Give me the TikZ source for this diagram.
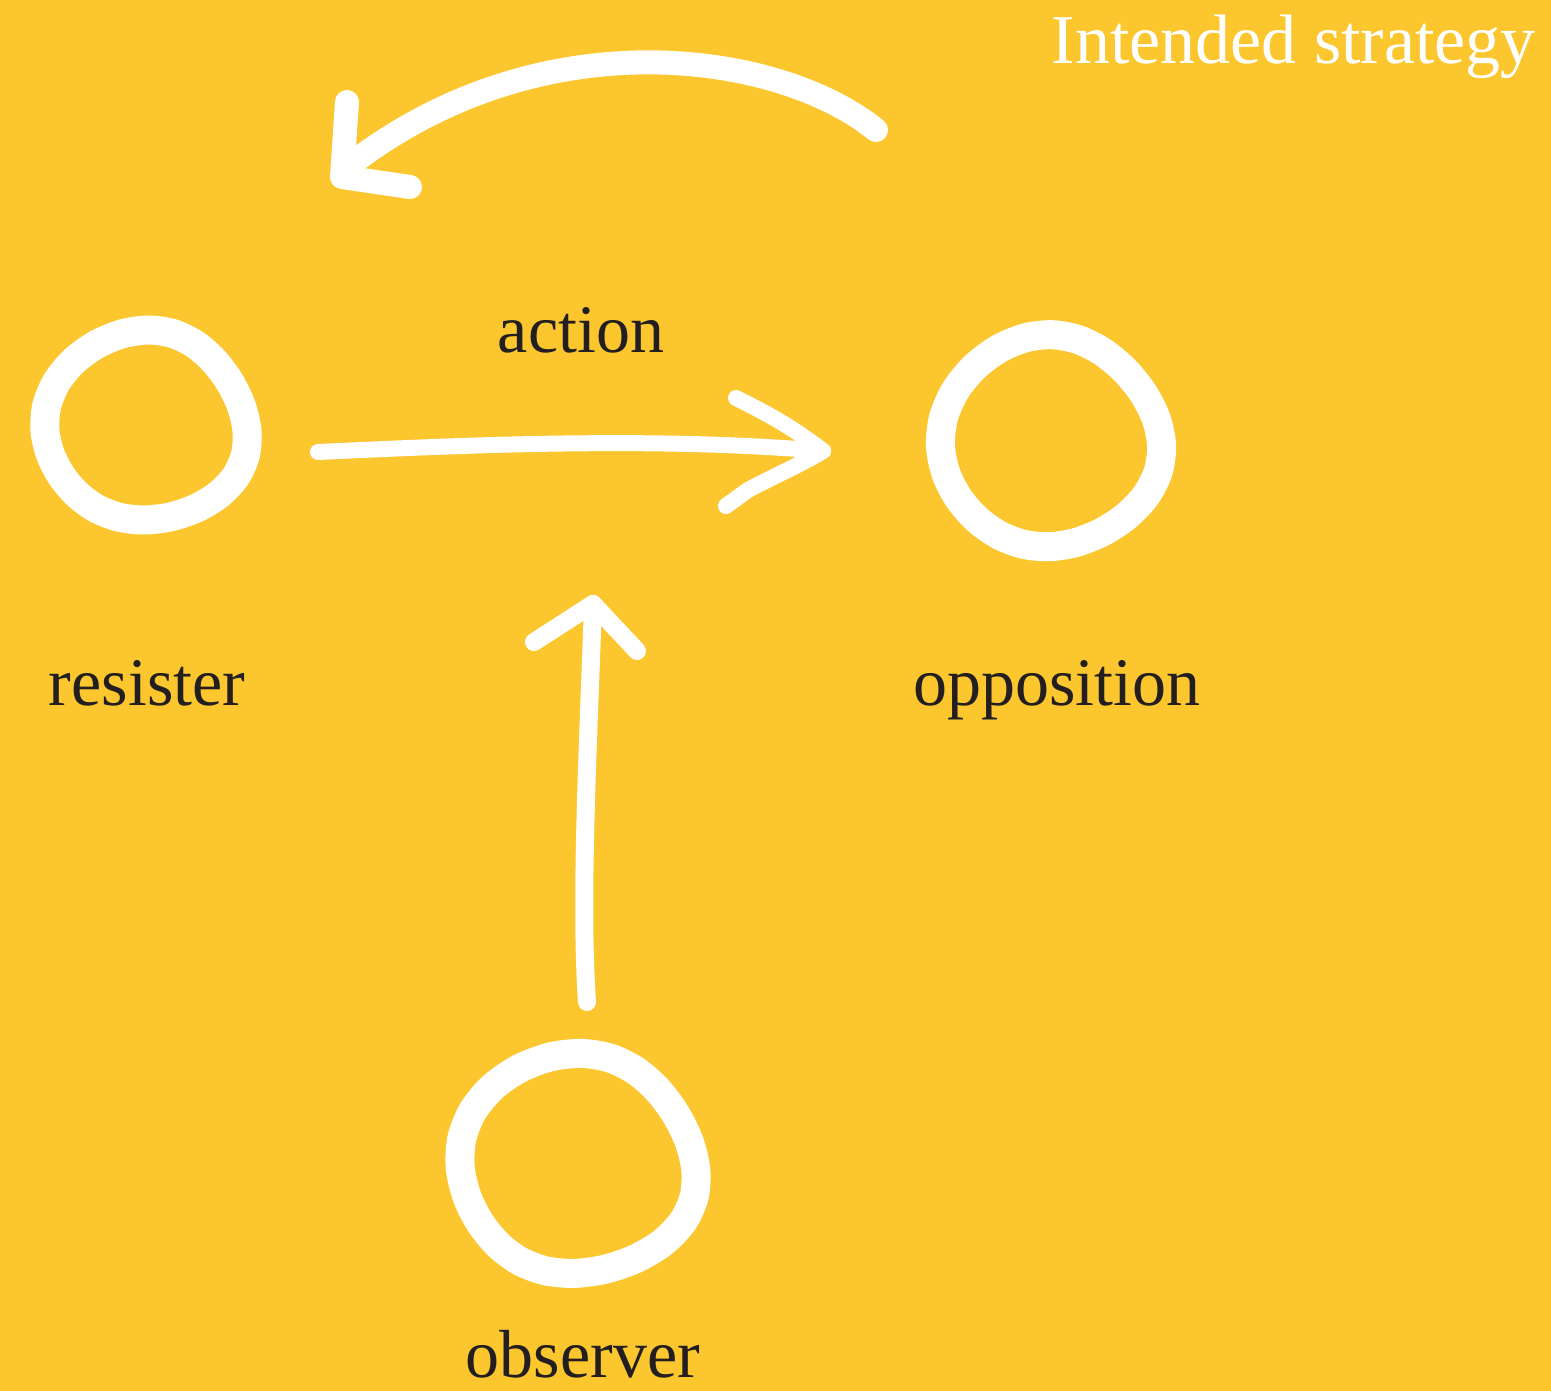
\documentclass[tikz,border=0pt]{standalone}
\usepackage{fontspec}
\setmainfont{Liberation Serif}
\definecolor{bgyellow}{HTML}{FCC62F}
\definecolor{ink}{HTML}{231F20}
\begin{document}
\begin{tikzpicture}[x=1pt,y=-1pt,
  ring/.style={draw=white,line width=29pt,line join=round},
  stroke/.style={draw=white,line cap=round,line join=round},
  lbl/.style={text=ink,font=\fontsize{68}{80}\selectfont,inner sep=0pt,anchor=base},
  hub/.style={circle,inner sep=0pt,minimum size=2pt}]
\fill[bgyellow] (0,0) rectangle (1551,1391);
\useasboundingbox (0,0) rectangle (1551,1391);
% centres
\node[hub] (res) at (146,428) {};
\node[hub] (opp) at (1051,443) {};
\node[hub] (obs) at (578,1166) {};
% hand drawn rings
\draw[ring] plot[smooth cycle,domain=0:345,samples=24] ({146+100*cos(\x)+3*sin(3*\x+20)}, {428+95*sin(\x)+3*cos(2*\x)});
\draw[ring] plot[smooth cycle,domain=0:345,samples=24] ({1051+108*cos(\x)+3*sin(3*\x+60)}, {443+106*sin(\x)+3*cos(2*\x+40)});
\draw[ring] plot[smooth cycle,domain=0:345,samples=24] ({578+117*cos(\x)+4*sin(3*\x+10)}, {1166+110*sin(\x)+3*cos(2*\x+30)});
% labels
\node[lbl] (lres) at (147,705) {resister};
\node[lbl] (lopp) at (1057,705) {opposition};
\node[lbl] (lobs) at (583,1377) {observer};
\node[lbl] (lact) at (581,352) {action};
\node[lbl,text=white,anchor=base east,font=\fontsize{70}{82}\selectfont] (title) at (1536,64) {Intended strategy};
% action arrow
\coordinate (a0) at (318,452);
\coordinate (a1) at (823,451);
\coordinate (ah1) at (736,398);
\coordinate (ah2) at (726,506);
\coordinate (ah2b) at (748,490);
\draw[stroke,line width=16pt] (a0) .. controls (450,446) and (650,436) .. (a1);
\draw[stroke,line width=16pt] (ah1) .. controls (760,410) and (790,425) .. (a1);
\draw[stroke,line width=16pt] (ah2) -- (ah2b) .. controls (770,478) and (800,465) .. (a1);
% observer arrow
\coordinate (o0) at (587,1002);
\coordinate (o1) at (593,604);
\coordinate (oh1) at (534,642);
\coordinate (oh2) at (637,651);
\draw[stroke,line width=18pt] (o0) .. controls (580,900) and (588,750) .. (o1);
\draw[stroke,line width=18pt] (oh1) -- (o1) -- (oh2);
% intended strategy curved arrow
\coordinate (c0) at (876,130);
\coordinate (c1) at (346,168);
\coordinate (ch1) at (347,102);
\coordinate (ch2) at (342,177);
\coordinate (ch3) at (410,187);
\draw[stroke,line width=24pt] (c0) .. controls (780,52) and (540,15) .. (c1);
\draw[stroke,line width=24pt] (ch1) -- (ch2) -- (ch3);
\end{tikzpicture}
\end{document}
